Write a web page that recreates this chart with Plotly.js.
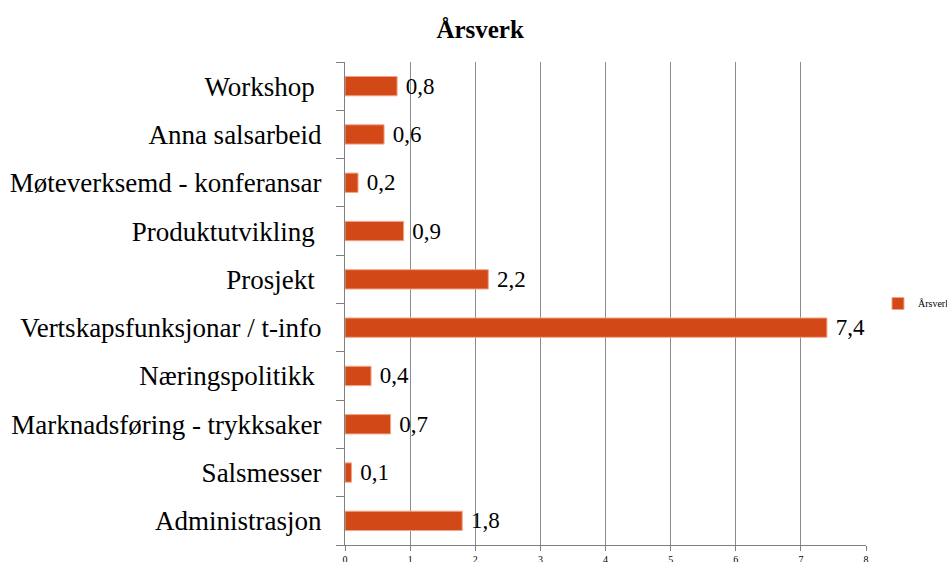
<!DOCTYPE html>
<html>
<head>
<meta charset="utf-8">
<script src="https://cdn.plot.ly/plotly-3.0.1.min.js"></script>
<style>
  html, body { margin: 0; padding: 0; background: #fff; }
  #chart { width: 947px; height: 562px; }
</style>
</head>
<body>
<div id="chart"></div>
<script>
// Categories listed bottom to top, as the category axis draws them
const categories = [
  "Administrasjon",
  "Salsmesser",
  "Marknadsføring - trykksaker",
  "Næringspolitikk ",
  "Vertskapsfunksjonar / t-info",
  "Prosjekt ",
  "Produktutvikling ",
  "Møteverksemd - konferansar",
  "Anna salsarbeid",
  "Workshop "
];
const arsverk = [1.8, 0.1, 0.7, 0.4, 7.4, 2.2, 0.9, 0.2, 0.6, 0.8];
const xTicks = [0, 1, 2, 3, 4, 5, 6, 7, 8];

const serif = "'Liberation Serif', 'DejaVu Serif', serif";

// labels use a decimal comma; the nbsp keeps a gap after the bar end
const labels = arsverk.map(v => "\u00a0" + v.toFixed(1).replace(".", ","));

const trace = {
  type: "bar",
  orientation: "h",
  name: "Årsverk",
  y: categories,
  x: arsverk,
  text: labels,
  textposition: "outside",
  constraintext: "none",
  textfont: { family: serif, size: 23, color: "#000" },
  cliponaxis: false,
  hoverinfo: "none",
  marker: {
    color: "#D34817",
    line: { color: "#F2A488", width: 1 }
  }
};

const layout = {
  width: 947,
  height: 562,
  margin: { l: 345, r: 81, t: 62, b: 17, autoexpand: false },
  paper_bgcolor: "#fff",
  plot_bgcolor: "#fff",
  font: { family: serif, color: "#000" },
  title: {
    text: "<b>Årsverk</b>",
    font: { family: serif, size: 25, color: "#000" },
    x: 0.507,
    xanchor: "center",
    y: 0.948,
    yanchor: "middle"
  },
  bargap: 0.6,
  showlegend: true,
  legend: {
    x: 1.023,
    xanchor: "left",
    y: 0.5,
    yanchor: "middle",
    font: { family: serif, size: 10, color: "#000" },
    itemwidth: 30,
    bgcolor: "rgba(0,0,0,0)"
  },
  xaxis: {
    range: [0, 8],
    tickvals: xTicks,
    ticktext: xTicks.map(String),
    ticks: "outside",
    ticklen: 5,
    tickcolor: "#808080",
    tickfont: { family: serif, size: 10, color: "#000" },
    showgrid: true,
    gridcolor: "#8c8c8c",
    gridwidth: 1,
    showline: true,
    linecolor: "#808080",
    linewidth: 1,
    zeroline: false,
    fixedrange: true
  },
  yaxis: {
    type: "category",
    ticks: "outside",
    tickson: "boundaries",
    ticklen: 8,
    tickcolor: "#808080",
    ticklabelstandoff: 17,
    tickfont: { family: serif, size: 27, color: "#000" },
    showgrid: false,
    showline: true,
    linecolor: "#808080",
    linewidth: 1,
    zeroline: false,
    fixedrange: true
  }
};

Plotly.newPlot("chart", [trace], layout, { staticPlot: true, displayModeBar: false });
</script>
</body>
</html>
